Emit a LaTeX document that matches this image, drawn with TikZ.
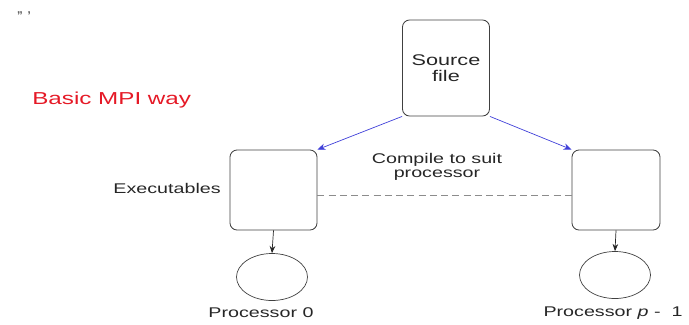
\documentclass[tikz,border=0pt]{standalone}
\usepackage{fontspec}
\setmainfont{Liberation Sans}
\newfontfamily\widesf[FakeStretch=1.4]{Liberation Sans}
\usetikzlibrary{arrows.meta, positioning, shapes.geometric}
\definecolor{mpired}{rgb}{0.9,0.1,0.15}
\definecolor{mpiblue}{rgb}{0.25,0.25,0.85}

\begin{document}
\begin{tikzpicture}[x=0.025cm, y=-0.025cm,
	box/.style={rectangle, draw=black!75, rounded corners=5pt, line width=0.6pt, inner sep=0pt},
	proc/.style={ellipse, draw=black!75, line width=0.5pt, minimum width=71*0.025cm, minimum height=47*0.025cm, inner sep=0pt},
	lbl/.style={font=\widesf\fontsize{10}{11}\selectfont, text=black!85, inner sep=0pt},
	blue arr/.style={-{Stealth[length=2mm, width=1.6mm]}, draw=mpiblue, line width=0.5pt},
	down arr/.style={-{Stealth[length=1.8mm, width=1.4mm]}, draw=black!85, line width=0.5pt}
	]
\useasboundingbox (0,0) rectangle (689,324);

\node[font=\bfseries\fontsize{8}{8}\selectfont, text=black!70, inner sep=0pt] (marks) at (24,16) {'' \,'};
\node[font=\widesf\fontsize{12.3}{13}\selectfont, text=mpired, anchor=west, inner sep=0pt] (title) at (32,100) {Basic MPI way};

% source and the two executables
\node[box, minimum width=87*0.025cm, minimum height=96*0.025cm] (src) at (446,68) {};
\node[lbl, font=\widesf\fontsize{11}{11.5}\selectfont, align=center] (srctxt) at (446,68) {Source\\file};
\node[box, minimum width=87*0.025cm, minimum height=80*0.025cm] (exe0) at (273.5,190) {};
\node[box, minimum width=88*0.025cm, minimum height=80*0.025cm] (exe1) at (616,190) {};

\node[lbl, anchor=east] (exetxt) at (221,188) {Executables};
\node[lbl, align=center, font=\widesf\fontsize{10}{9.5}\selectfont] (comp) at (437,167) {Compile to suit\\processor};

% processors
\node[proc] (p0) at (272,277) {};
\node[proc] (p1) at (615,275) {};
\node[lbl, anchor=north] (p0txt) at (261,307) {Processor 0};
\node[lbl, anchor=north] (p1txt) at (613,307) {Processor \textit{p} -\ \ 1};

\draw[blue arr] (src.south west) -- (exe0.north east);
\draw[blue arr] (src.south east) -- (exe1.north west);
\draw[dashed, draw=black!45, dash pattern=on 5pt off 3pt] ([yshift=-3.5pt]exe0.east) -- ([yshift=-3.5pt]exe1.west);
\draw[down arr] (exe0.south) -- (p0.north);
\draw[down arr] (exe1.south) -- (p1.north);
\end{tikzpicture}
\end{document}
